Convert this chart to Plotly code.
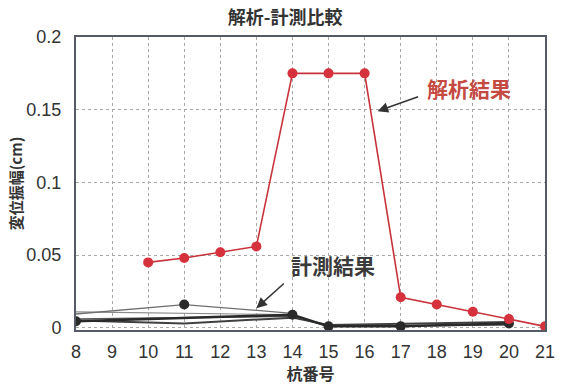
import plotly.graph_objects as go

# Pile numbers and displacement amplitude (cm)
calc_piles = [10, 11, 12, 13, 14, 15, 16, 17, 18, 19, 20, 21]
calc_amp = [0.045, 0.048, 0.052, 0.056, 0.175, 0.175, 0.175, 0.021, 0.016, 0.011, 0.006, 0.001]

meas_a_piles = [8, 11, 14]
meas_a_amp = [0.0095, 0.016, 0.010]

meas_b_piles = [8, 14]
meas_b_amp = [0.011, 0.009]

meas_c_piles = [8, 14, 15, 17, 20]
meas_c_amp = [0.0045, 0.009, 0.001, 0.001, 0.003]

meas_d_piles = [8, 11, 14, 15, 20]
meas_d_amp = [0.005, 0.003, 0.007, 0.002, 0.004]

meas_e_piles = [8, 14, 15, 20]
meas_e_amp = [0.006, 0.008, 0.001, 0.002]

x_ticks = list(range(8, 22))
y_ticks = [0, 0.05, 0.1, 0.15, 0.2]
y_tick_text = ["0", "0.05", "0.1", "0.15", "0.2"]

FONT = "Liberation Sans, Arial, sans-serif"
CJK = "Noto Sans CJK JP, sans-serif"

fig = go.Figure()

# Measured results (grey / black lines)
fig.add_trace(go.Scatter(x=meas_b_piles, y=meas_b_amp, mode="lines",
                         line=dict(color="#8a8a8a", width=1.2), showlegend=False))
fig.add_trace(go.Scatter(x=meas_a_piles, y=meas_a_amp, mode="lines",
                         line=dict(color="#707070", width=1.3), showlegend=False))
fig.add_trace(go.Scatter(x=[meas_a_piles[1]], y=[meas_a_amp[1]], mode="markers",
                         marker=dict(size=10, color="#2a2a2a", line=dict(width=0)),
                         showlegend=False))
fig.add_trace(go.Scatter(x=meas_e_piles, y=meas_e_amp, mode="lines",
                         line=dict(color="#5a5a5a", width=1.5), showlegend=False))
fig.add_trace(go.Scatter(x=meas_d_piles, y=meas_d_amp, mode="lines",
                         line=dict(color="#404040", width=2), showlegend=False))
fig.add_trace(go.Scatter(x=meas_c_piles, y=meas_c_amp, mode="lines+markers",
                         line=dict(color="#2a2a2a", width=2.5),
                         marker=dict(size=10, color="#2a2a2a"), showlegend=False))

# Analysis result (red line)
fig.add_trace(go.Scatter(x=calc_piles, y=calc_amp, mode="lines+markers",
                         line=dict(color="#c8343c", width=1.6),
                         marker=dict(size=10, color="#d6323e"), showlegend=False))

# Labels with arrows (ax/ay are pixel offsets from the tip to the tail)
fig.add_annotation(x=16.36, y=0.149, ax=42, ay=-15,
                   xref="x", yref="y", text="", showarrow=True,
                   arrowhead=2, arrowsize=1.4, arrowwidth=1.5, arrowcolor="#333333")
fig.add_annotation(x=17.67, y=0.165, xref="x", yref="y", text="<b>解析結果</b>", showarrow=False,
                   font=dict(family=CJK, size=21, color="#c44a42"), xanchor="left")

fig.add_annotation(x=13.0, y=0.0135, ax=29, ay=-26,
                   xref="x", yref="y", text="", showarrow=True,
                   arrowhead=2, arrowsize=1.4, arrowwidth=1.5, arrowcolor="#333333")
fig.add_annotation(x=13.9, y=0.043, xref="x", yref="y", text="<b>計測結果</b>", showarrow=False,
                   font=dict(family=CJK, size=21, color="#3a3a3a"), xanchor="left")

fig.update_layout(
    width=567, height=385,
    margin=dict(l=76, r=15, t=37, b=53),
    paper_bgcolor="white", plot_bgcolor="white",
    title=dict(text="<b>解析-計測比較</b>", x=0.503, xanchor="center", y=0.955, yanchor="middle",
               font=dict(family=CJK, size=18, color="#333333")),
    xaxis=dict(range=[8, 21], tickmode="array", tickvals=x_ticks,
               ticktext=[str(v) for v in x_ticks],
               showgrid=True, gridcolor="#a8a8a8", griddash="dot", gridwidth=1,
               showline=True, linecolor="#555a66", linewidth=2, mirror=True,
               zeroline=False, ticks="", ticklabelstandoff=4,
               tickfont=dict(family=FONT, size=18, color="#333333"),
               title=dict(text="<b>杭番号</b>", font=dict(family=CJK, size=16, color="#333333"),
                          standoff=0)),
    yaxis=dict(range=[-0.0015, 0.2], tickmode="array", tickvals=y_ticks, ticktext=y_tick_text,
               showgrid=True, gridcolor="#a8a8a8", griddash="dot", gridwidth=1,
               showline=True, linecolor="#555a66", linewidth=2, mirror=True,
               zeroline=False, ticks="", ticklabelstandoff=9,
               tickfont=dict(family=FONT, size=18, color="#333333"),
               title=dict(text="<b>変位振幅(cm)</b>", font=dict(family=CJK, size=15, color="#333333"),
                          standoff=0)),
)

fig.write_html("out.html")
